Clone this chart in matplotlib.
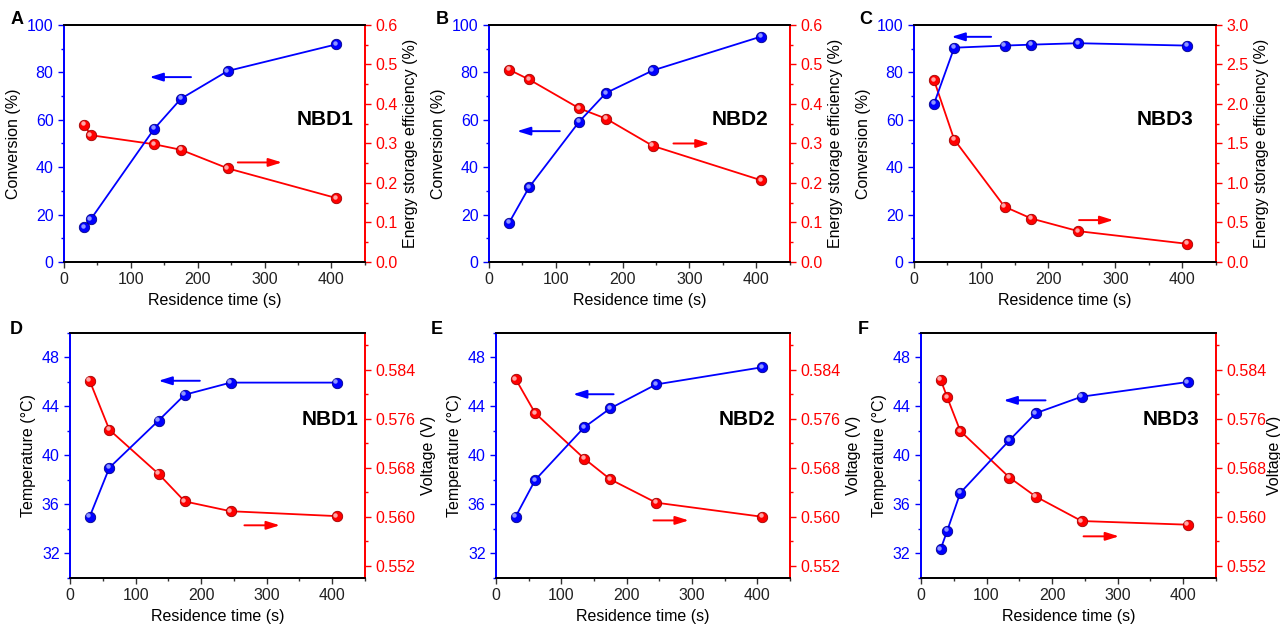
import numpy as np
import matplotlib.pyplot as plt
from matplotlib.ticker import MultipleLocator, FormatStrFormatter
from matplotlib.transforms import offset_copy

plt.rcParams['font.family'] = ['Liberation Sans', 'DejaVu Sans']

# residence times (s)
t_A = [30, 40, 135, 175, 245, 407]
t_BC = [30, 60, 135, 175, 245, 407]
t_F = [30, 40, 60, 135, 175, 245, 407]

# top row: conversion (%) and energy storage efficiency (%)
conv_A = [14.6, 18.0, 56.2, 68.9, 80.6, 91.8]
eff_A = [0.348, 0.321, 0.298, 0.284, 0.237, 0.162]
conv_B = [16.5, 31.5, 59.2, 71.3, 80.8, 95.1]
eff_B = [0.487, 0.462, 0.389, 0.363, 0.294, 0.207]
conv_C = [66.8, 90.4, 91.3, 91.7, 92.3, 91.3]
eff_C = [2.30, 1.55, 0.70, 0.55, 0.39, 0.23]

# bottom row: temperature (C) and voltage (V)
temp_D = [35.0, 39.0, 42.85, 44.96, 45.95, 45.95]
volt_D = [0.5822, 0.5742, 0.5670, 0.5625, 0.5609, 0.5601]
temp_E = [35.0, 38.0, 42.3, 43.85, 45.8, 47.2]
volt_E = [0.5825, 0.5769, 0.5695, 0.5661, 0.5623, 0.5600]
temp_F = [32.35, 33.85, 36.95, 41.25, 43.45, 44.8, 46.0]
volt_F = [0.5824, 0.5795, 0.5740, 0.5664, 0.5633, 0.5593, 0.5587]

BLUE = '#0000ff'
RED = '#ff0000'

fig = plt.figure(figsize=(12.8, 6.29), dpi=100)


def sphere_plot(ax, x, y, color, dark, light):
    ax.plot(x, y, '-', color=color, lw=1.3, zorder=3)
    ax.plot(x, y, 'o', ms=7.5, mfc=color, mec=dark, mew=0.6, zorder=4)
    hl = offset_copy(ax.transData, fig=fig, x=-1.4, y=1.4, units='dots')
    ax.plot(x, y, 'o', ms=3.2, mfc=light, mec='none', alpha=0.85,
            transform=hl, zorder=5)


def make_panel(rect, x, yl, yr, tag, top, arrows, tagpos, rlabel_x=None):
    ax = fig.add_axes(rect)
    ax2 = ax.twinx()
    sphere_plot(ax, x, yl, BLUE, '#00008b', '#a8b0ff')
    sphere_plot(ax2, x, yr, RED, '#a00000', '#ffc4c4')
    ax.set_xlim(0, 450)
    ax.xaxis.set_major_locator(MultipleLocator(100))
    ax.xaxis.set_minor_locator(MultipleLocator(50))
    ax.set_xlabel('Residence time (s)', fontsize=11.5)
    if top:
        ax.set_ylim(0, 100)
        ax.yaxis.set_major_locator(MultipleLocator(20))
        ax.yaxis.set_minor_locator(MultipleLocator(10))
        ax.set_ylabel('Conversion (%)', fontsize=11.5)
        ax2.set_ylabel('Energy storage efficiency (%)', fontsize=11.5)
        rmax = 3.0 if max(yr) > 1 else 0.6
        ax2.set_ylim(0, rmax)
        ax2.yaxis.set_major_locator(MultipleLocator(rmax / 6))
        ax2.yaxis.set_minor_locator(MultipleLocator(rmax / 12))
        ax2.yaxis.set_major_formatter(FormatStrFormatter('%.1f'))
    else:
        ax.set_ylim(30, 50)
        ax.yaxis.set_major_locator(MultipleLocator(4))
        ax.yaxis.set_minor_locator(MultipleLocator(2))
        ax.set_ylabel('Temperature (°C)', fontsize=11.5)
        ax2.set_ylim(0.55, 0.59)
        ax2.yaxis.set_major_locator(MultipleLocator(0.008))
        ax2.yaxis.set_minor_locator(MultipleLocator(0.004))
        ax2.yaxis.set_major_formatter(FormatStrFormatter('%.3f'))
        ax2.set_ylabel('Voltage (V)', fontsize=11.5)
    if rlabel_x is not None:
        ax2.yaxis.set_label_coords(rlabel_x, 0.5)

    for a in (ax, ax2):
        for s in a.spines.values():
            s.set_linewidth(1.3)
        a.tick_params(which='both', direction='out', labelsize=11.5)
        a.tick_params(which='major', length=4, width=1)
        a.tick_params(which='minor', length=2.5, width=1)
    ax.spines['left'].set_color(BLUE)
    ax2.spines['left'].set_color(BLUE)
    ax.spines['right'].set_color(RED)
    ax2.spines['right'].set_color(RED)
    ax.tick_params(axis='y', which='both', colors=BLUE, labelcolor=BLUE)
    ax2.tick_params(axis='y', which='both', colors=RED, labelcolor=RED)
    ax.tick_params(axis='x', which='both', colors='#333333', labelcolor='#222222')

    (bx0, bx1, by), (rx0, rx1, ry) = arrows
    style = '-|>,head_length=0.8,head_width=0.25'
    ax.annotate('', xy=(bx1, by), xytext=(bx0, by),
                arrowprops=dict(arrowstyle=style, color=BLUE, lw=1.4,
                                shrinkA=0, shrinkB=0))
    ax2.annotate('', xy=(rx1, ry), xytext=(rx0, ry),
                 arrowprops=dict(arrowstyle=style, color=RED, lw=1.4,
                                 shrinkA=0, shrinkB=0))
    ax.text(tagpos[0], tagpos[1], tag, transform=ax.transAxes, fontsize=15,
            fontweight='bold', ha='center', va='center', zorder=6)
    ax.set_zorder(ax2.get_zorder() + 1)
    ax.patch.set_visible(False)
    return ax


make_panel([0.050, 0.5835, 0.235, 0.3768], t_A, conv_A, eff_A, 'NBD1', True,
           ((190, 128, 78), (260, 326, 0.252)), (0.867, 0.60))
make_panel([0.382, 0.5835, 0.235, 0.3768], t_BC, conv_B, eff_B, 'NBD2', True,
           ((106, 42, 55.2), (276, 330, 0.30)), (0.836, 0.60))
make_panel([0.714, 0.5835, 0.236, 0.3768], t_BC, conv_C, eff_C, 'NBD3', True,
           ((115, 56, 95), (246, 297, 0.53)), (0.832, 0.60))
make_panel([0.0547, 0.0811, 0.2305, 0.3895], t_BC, temp_D, volt_D, 'NBD1', False,
           ((198, 135, 46.1), (266, 320, 0.5586)), (0.88, 0.646))
make_panel([0.3875, 0.0811, 0.2297, 0.3895], t_BC, temp_E, volt_E, 'NBD2', False,
           ((180, 118, 45.0), (241, 295, 0.5594)), (0.853, 0.646))
make_panel([0.7195, 0.0811, 0.2305, 0.3895], t_F, temp_F, volt_F, 'NBD3', False,
           ((190, 126, 44.5), (248, 302, 0.5568)), (0.848, 0.646), rlabel_x=1.172)

# panel letters
for letter, px, py in [('A', 17, 20), ('B', 442, 20), ('C', 866, 20),
                       ('D', 16, 329), ('E', 437, 329), ('F', 863, 329)]:
    fig.text(px / 1280, 1 - py / 629, letter, fontsize=13, fontweight='bold',
             ha='center', va='center')

plt.savefig('out.png', dpi=100)
